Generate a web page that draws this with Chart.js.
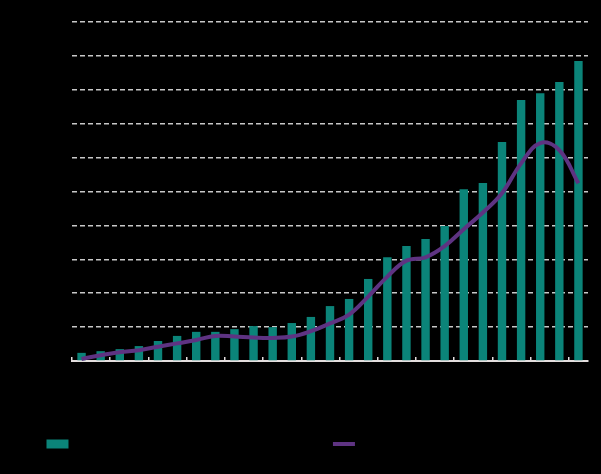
<!DOCTYPE html>
<html>
<head>
<meta charset="utf-8">
<script src="https://cdn.jsdelivr.net/npm/chart.js@4.4.1/dist/chart.umd.min.js"></script>
<style>
  html, body { margin: 0; padding: 0; background: #000; }
  #wrap { width: 601px; height: 474px; }
</style>
</head>
<body>
<div id="wrap"><canvas id="mainChart"></canvas></div>
<script>
// Chart data
var years = ["1996", "1997", "1998", "1999", "2000", "2001", "2002", "2003", "2004",
  "2005", "2006", "2007", "2008", "2009", "2010", "2011", "2012", "2013", "2014",
  "2015", "2016", "2017", "2018", "2019", "2020", "2021", "2022"];
var barValues = [2.4, 2.9, 3.5, 4.4, 5.9, 7.4, 8.6, 8.6, 9.4, 10.3, 10.0, 11.2, 13.0,
  16.2, 18.3, 24.2, 30.6, 33.9, 36.0, 39.8, 50.7, 52.5, 64.6, 77.0, 79.0, 82.3, 88.5];
var lineValues = [0.6, 1.7, 2.6, 3.2, 4.2, 5.2, 6.2, 7.4, 7.2, 6.9, 6.8, 7.2, 8.8,
  11.1, 13.7, 19.0, 24.9, 29.6, 30.6, 33.9, 38.9, 43.8, 49.5, 58.3, 64.3, 62.2, 52.4];
var yTicks = [0, 10, 20, 30, 40, 50, 60, 70, 80, 90, 100];
var barLabel = "Total annual sales volume, in millions of units";
var lineLabel = "Average annual value, price index";

var teal = "#0b8479";
var purple = "#5e3382";
var legendGap = 19;

var ctx = document.getElementById("mainChart").getContext("2d");
var mainChart = new Chart(ctx, {
  type: "bar",
  data: {
    labels: years,
    datasets: [
      {
        label: barLabel,
        data: barValues,
        backgroundColor: teal,
        borderWidth: 0,
        barPercentage: 0.44,
        categoryPercentage: 1,
        order: 2,
      },
      {
        type: "line",
        label: lineLabel,
        data: lineValues,
        borderColor: purple,
        backgroundColor: purple,
        borderWidth: 4,
        tension: 0.4,
        pointRadius: 0,
        order: 1,
      },
    ],
  },
  options: {
    responsive: true,
    maintainAspectRatio: false,
    animation: false,
    layout: { padding: { left: 0, right: 13, top: 22, bottom: 14 } },
    plugins: {
      tooltip: { enabled: false },
      legend: {
        position: "bottom",
        labels: {
          color: "#000",
          font: { family: "Liberation Sans", size: 12 },
          usePointStyle: true,
          pointStyleWidth: 22,
          boxHeight: 9,
          padding: legendGap,
          sort: function (a, b) { return a.datasetIndex - b.datasetIndex; },
          generateLabels: function (chart) {
            var items = Chart.defaults.plugins.legend.labels.generateLabels(chart);
            items.forEach(function (item) {
              if (item.datasetIndex === 0) {
                item.pointStyle = "rect";
                item.lineWidth = 0;
              } else {
                item.pointStyle = "line";
                item.lineWidth = 4;
                item.strokeStyle = purple;
              }
            });
            return items;
          },
        },
      },
    },
    scales: {
      x: {
        offset: true,
        // keeps the plot bottom at the same place whatever the legend gap
        afterFit: function (scale) { scale.height = 77 - legendGap; },
        grid: {
          offset: true,
          drawOnChartArea: false,
          drawTicks: true,
          tickLength: -4,
          lineWidth: 1.5,
          color: function (c) { return c.index % 2 === 0 ? "#e4dede" : "rgba(0,0,0,0)"; },
          tickColor: function (c) { return c.index % 2 === 0 ? "#e4dede" : "rgba(0,0,0,0)"; },
        },
        border: { display: true, color: "#e4dede", width: 2 },
        ticks: {
          autoSkip: false,
          maxRotation: 0,
          color: "#000",
          font: { family: "Liberation Sans", size: 12 },
          callback: function (v, i) { return i % 2 === 0 ? years[i] : ""; },
        },
      },
      y: {
        min: yTicks[0],
        max: yTicks[yTicks.length - 1],
        afterFit: function (scale) { scale.width = 72; },
        afterBuildTicks: function (scale) {
          scale.ticks = yTicks.map(function (v) { return { value: v }; });
        },
        grid: {
          drawTicks: false,
          lineWidth: 1.5,
          color: function (c) { return c.tick && c.tick.value === 0 ? "rgba(0,0,0,0)" : "#c8c8c8"; },
        },
        border: { display: false, dash: [5, 3] },
        ticks: {
          color: "#000",
          padding: 8,
          font: { family: "Liberation Sans", size: 12 },
        },
      },
    },
  },
});
</script>
</body>
</html>
